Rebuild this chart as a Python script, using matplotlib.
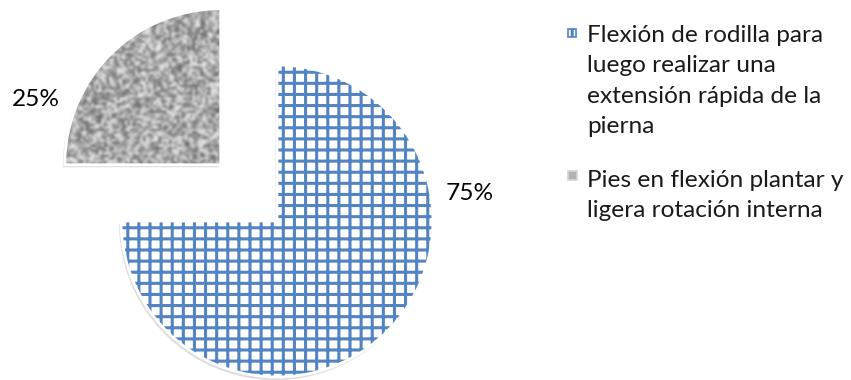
import matplotlib.pyplot as plt
import numpy as np
from matplotlib.patches import Wedge, Rectangle

# data
values = [75, 25]
legend_lines = [
    ["Flexión de rodilla para", "luego realizar una", "extensión rápida de la", "pierna"],
    ["Pies en flexión plantar y", "ligera rotación interna"],
]
blue = '#5283C2'

plt.rcParams['font.family'] = ['Lato', 'DejaVu Sans']
plt.rcParams['hatch.linewidth'] = 1.1

# axes in pixel units (851 x 380), y up
fig = plt.figure(figsize=(4.255, 1.9), dpi=200)
ax = fig.add_axes([0, 0, 1, 1])

radius = 156
wedges, _ = ax.pie(values, startangle=90, counterclock=False,
                   explode=[0, 0.51 * radius],
                   center=(277, 159), radius=radius,
                   colors=['white', '#a6a6a6'],
                   wedgeprops=dict(edgecolor=blue, linewidth=0))

# blue grid slice
wedges[0].set_hatch('+++')

# grey textured slice
w = wedges[1]
cx, cy = w.center
rng = np.random.default_rng(3)
noise = rng.random((60, 60))
im = ax.imshow(noise, cmap='gray', vmin=-0.75, vmax=1.1, interpolation='bicubic',
               extent=(cx - w.r, cx, cy, cy + w.r), zorder=2)
im.set_clip_path(w)

# white borders and soft shadow
for wd in wedges:
    c = wd.center
    ax.add_patch(Wedge((c[0] - 1.5, c[1] - 2.5), wd.r + 0.5, wd.theta1, wd.theta2,
                       facecolor='#bdbdbd', edgecolor='none', alpha=0.5, zorder=0.5))
    ax.add_patch(Wedge(c, wd.r, wd.theta1, wd.theta2, fill=False,
                       edgecolor='white', linewidth=1.0, zorder=3))

# percentage labels
ax.text(470, 187, f"{values[0]}%", ha='center', va='center', fontsize=8.8, color='black')
ax.text(36, 281, f"{values[1]}%", ha='center', va='center', fontsize=8.8, color='black')

# legend drawn by hand
first_base = [380 - 41.7, 380 - 186.7]
line_h = 30.5
ax.add_patch(Rectangle((568, 380 - 37), 8, 8, facecolor='white', edgecolor=blue,
                       hatch='+++', linewidth=0.6))
ax.add_patch(Rectangle((568, 380 - 180), 9, 9, facecolor='#b3b3b3', edgecolor='#d4d4d4',
                       linewidth=0.6))
for lines, yb in zip(legend_lines, first_base):
    for i, line in enumerate(lines):
        ax.text(587, yb - i * line_h, line, ha='left', va='baseline',
                fontsize=8.8, color='#1a1a1a')

ax.set_xlim(0, 851)
ax.set_ylim(0, 380)
ax.set_aspect('equal')
ax.axis('off')

plt.savefig('out.png', dpi=200)
plt.close()
